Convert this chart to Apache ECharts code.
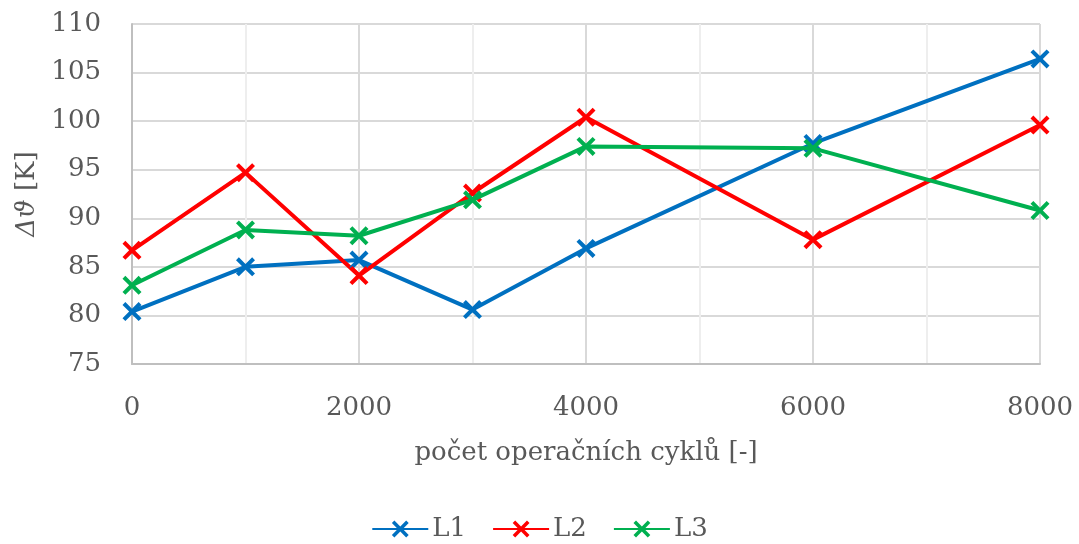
<!DOCTYPE html>
<html>
<head>
<meta charset="utf-8">
<script src="https://cdn.jsdelivr.net/npm/echarts@6/dist/echarts.min.js"></script>
<style>
  body{margin:0;padding:0;background:#fff;}
  #chart{width:1079px;height:544px;}
</style>
</head>
<body>
<div id="chart"></div>
<script>
  // cycles on x, temperature rise on y
  const cycles = [0, 1000, 2000, 3000, 4000, 6000, 8000]
  const L1 = [80.4, 85.0, 85.7, 80.6, 86.9, 97.7, 106.4]
  const L2 = [86.7, 94.7, 84.1, 92.6, 100.4, 87.8, 99.6]
  const L3 = [83.1, 88.8, 88.2, 91.9, 97.4, 97.2, 90.8]
  const seriesNames = ['L1', 'L2', 'L3']
  const colors = ['#0070c0', '#ff0000', '#00b050']

  const font = 'DejaVu Serif'
  const fs = 26
  const txt = '#595959'
  // cross marker as filled polygon
  const cross = 'path://M0,1.5L1.5,0L5,3.5L8.5,0L10,1.5L6.5,5L10,8.5L8.5,10L5,6.5L1.5,10L0,8.5L3.5,5Z'

  function pairs(vals){
    return cycles.map((c, i) => [c, vals[i]])
  }

  let chart = echarts.init(document.getElementById('chart'))
  let option = {
    backgroundColor: '#fff',
    textStyle: {fontFamily: font, color: txt},
    grid: {left: 132, right: 39, top: 24, bottom: 180, containLabel: false},
    legend: {
      bottom: -3,
      left: 'center',
      itemWidth: 56,
      itemHeight: 21,
      itemGap: 26,
      textStyle: {fontFamily: font, fontSize: fs, color: txt, padding: [0, 0, 0, -1]},
      data: seriesNames
    },
    xAxis: {
      type: 'value',
      min: 0,
      max: 8000,
      interval: 2000,
      name: 'počet operačních cyklů [-]',
      nameLocation: 'middle',
      nameGap: 76,
      nameTextStyle: {fontFamily: font, fontSize: fs, color: txt},
      axisLine: {show: true, lineStyle: {color: '#bfbfbf', width: 2}},
      axisTick: {show: false},
      axisLabel: {fontFamily: font, fontSize: fs, color: txt, margin: 31, formatter: v => String(v)},
      splitLine: {show: true, lineStyle: {color: '#d9d9d9', width: 2}},
      minorTick: {show: false, splitNumber: 2},
      minorSplitLine: {show: true, lineStyle: {color: '#eeeeee', width: 2}}
    },
    yAxis: {
      type: 'value',
      min: 75,
      max: 110,
      interval: 5,
      name: '{i|Δϑ} [K]',
      nameLocation: 'middle',
      nameRotate: 90,
      nameGap: 92,
      nameTextStyle: {
        fontFamily: font, fontSize: fs, color: txt,
        rich: {i: {fontFamily: font, fontStyle: 'italic', fontSize: fs, color: txt}}
      },
      axisLine: {show: true, lineStyle: {color: '#bfbfbf', width: 2}},
      axisTick: {show: false},
      axisLabel: {fontFamily: font, fontSize: fs, color: txt, margin: 31},
      splitLine: {show: true, lineStyle: {color: '#d9d9d9', width: 2}}
    },
    series: [L1, L2, L3].map((vals, k) => ({
      name: seriesNames[k],
      type: 'line',
      data: pairs(vals),
      symbol: cross,
      symbolSize: 19,
      showAllSymbol: true,
      color: colors[k],
      lineStyle: {width: 4, color: colors[k]},
      itemStyle: {color: colors[k]},
      z: 3 + (k === 1 ? 0 : k)
    }))
  }
  chart.setOption(option)
</script>
</body>
</html>
